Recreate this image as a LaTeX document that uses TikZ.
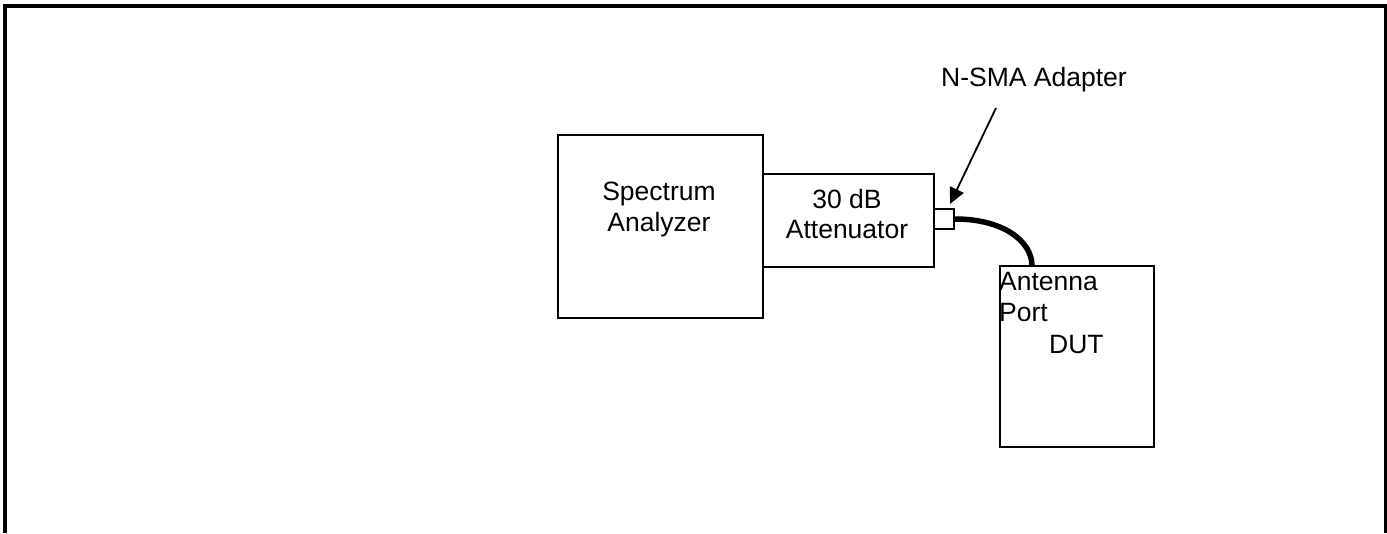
\documentclass[tikz,border=0pt]{standalone}
\usepackage{fontspec}
\setmainfont{Liberation Sans}
\usetikzlibrary{arrows.meta}
\tikzset{
  box/.style={draw=black, line width=2pt, inner sep=0pt, anchor=north west, fill=white},
  lbl/.style={inner sep=0pt, font=\fontsize{26.5}{30.5}\selectfont, text=black},
  frame/.style={line width=4pt, draw=black},
  arr/.style={line width=1.8pt, -{Triangle[length=16pt,width=15pt]}},
  cable/.style={line width=5.5pt, line cap=butt}
}
\begin{document}
\begin{tikzpicture}[x=1pt, y=-1pt]
\useasboundingbox (0,0) rectangle (1387,533);
\draw[frame] (5,533) -- (5,5.5) -- (1386,5.5) -- (1386,533);

\node[box, minimum width=205pt, minimum height=183pt] (sa) at (557,134) {};
\node[lbl, anchor=north, align=center] (satext) at (659,182) {Spectrum\\Analyzer};

\node[box, minimum width=171pt, minimum height=93pt] (att) at (762,173) {};
\node[lbl, anchor=north, align=center] (atttext) at (847,189) {30 dB\\Attenuator};

\node[box, minimum width=20pt, minimum height=20pt] (adp) at (933,208) {};

\node[box, minimum width=154pt, minimum height=181pt] (dut) at (999,265) {};
\node[lbl, anchor=north west, align=left, font=\fontsize{26.5}{31.5}\selectfont] (duttext) at (999,272) {Antenna\\Port\\\hspace*{50pt}DUT};

\node[lbl, anchor=north west] (nsma) at (941,67) {N-SMA Adapter};
\coordinate (astart) at (996,108);

\draw[arr] (astart) -- ([shift={(6,-4)}]adp.north);
\draw[cable] (adp.east) .. controls ++(48,0) and ([xshift=33,yshift=24]dut.north west) .. ([xshift=33,yshift=-1]dut.north west);
\end{tikzpicture}
\end{document}
